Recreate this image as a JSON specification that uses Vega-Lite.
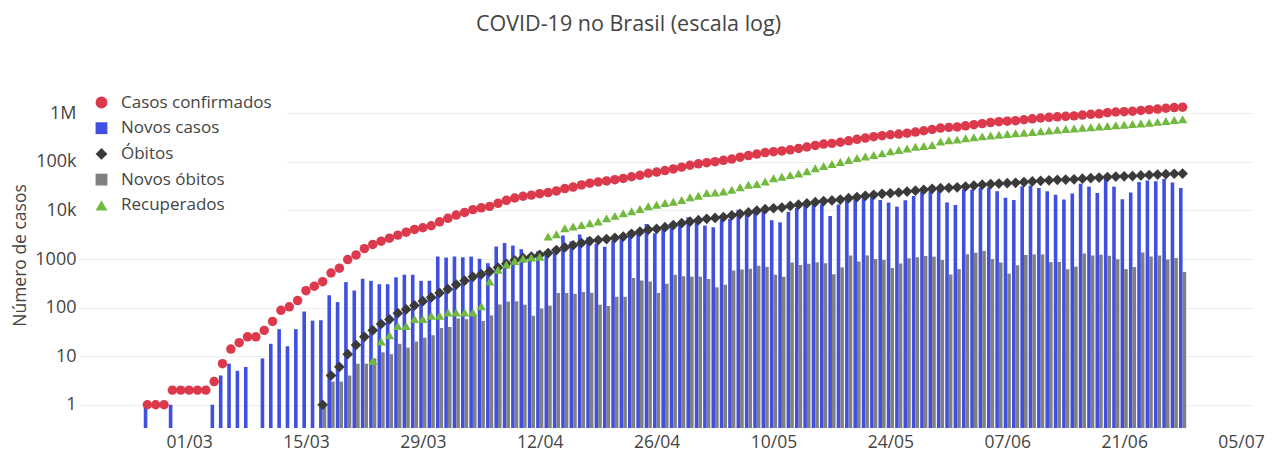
{
"$schema": "https://vega.github.io/schema/vega-lite/v6.json",
"width": 1175, "height": 340,
"autosize": {"type": "none"},
"padding": {"left": 78, "top": 88, "right": 27, "bottom": 24},
"background": "white",
"config": {"font": "Open Sans", "view": {"stroke": null},
  "legend": {"orient": "none", "legendX": 0, "legendY": -9, "padding": 15, "fillColor": "white", "labelFontSize": 17, "labelColor": "#444", "symbolSize": 140, "rowPadding": 7.7, "labelOffset": 11, "symbolStrokeWidth": 0, "symbolOpacity": 1}},
"title": {"text": "COVID-19 no Brasil (escala log)", "fontSize": 21.5, "fontWeight": "normal", "color": "#444", "anchor": "middle", "frame": "group", "dx": -37, "offset": 44},
"data": {"values": [
{"data":"2020-02-25","casos":1,"novos":1},
{"data":"2020-02-26","casos":1},
{"data":"2020-02-27","casos":1},
{"data":"2020-02-28","casos":2,"novos":1},
{"data":"2020-02-29","casos":2},
{"data":"2020-03-01","casos":2},
{"data":"2020-03-02","casos":2},
{"data":"2020-03-03","casos":2},
{"data":"2020-03-04","casos":3,"novos":1},
{"data":"2020-03-05","casos":7,"novos":4},
{"data":"2020-03-06","casos":14,"novos":7},
{"data":"2020-03-07","casos":19,"novos":5},
{"data":"2020-03-08","casos":25,"novos":6},
{"data":"2020-03-09","casos":25},
{"data":"2020-03-10","casos":34,"novos":9},
{"data":"2020-03-11","casos":52,"novos":18},
{"data":"2020-03-12","casos":88,"novos":36},
{"data":"2020-03-13","casos":104,"novos":16},
{"data":"2020-03-14","casos":140,"novos":36},
{"data":"2020-03-15","casos":223,"novos":83},
{"data":"2020-03-16","casos":277,"novos":54},
{"data":"2020-03-17","casos":342,"novos":55,"obitos":1,"novos_obitos":1},
{"data":"2020-03-18","casos":516,"novos":180,"obitos":4,"novos_obitos":3},
{"data":"2020-03-19","casos":650,"novos":130,"obitos":6,"novos_obitos":3},
{"data":"2020-03-20","casos":975,"novos":335,"obitos":11,"novos_obitos":4},
{"data":"2020-03-21","casos":1215,"novos":225,"obitos":17,"novos_obitos":7},
{"data":"2020-03-22","casos":1640,"novos":395,"obitos":25,"novos_obitos":7},
{"data":"2020-03-23","casos":2000,"novos":356,"obitos":34,"novos_obitos":9,"recuperados":8},
{"data":"2020-03-24","casos":2330,"novos":304,"obitos":46,"novos_obitos":12,"recuperados":20},
{"data":"2020-03-25","casos":2690,"novos":304,"obitos":57,"novos_obitos":11,"recuperados":27},
{"data":"2020-03-26","casos":3110,"novos":420,"obitos":77,"novos_obitos":18,"recuperados":42},
{"data":"2020-03-27","casos":3570,"novos":478,"obitos":92,"novos_obitos":15,"recuperados":42},
{"data":"2020-03-28","casos":4070,"novos":478,"obitos":111,"novos_obitos":20,"recuperados":58},
{"data":"2020-03-29","casos":4410,"novos":356,"obitos":136,"novos_obitos":24,"recuperados":58},
{"data":"2020-03-30","casos":4850,"novos":356,"obitos":162,"novos_obitos":27,"recuperados":68},
{"data":"2020-03-31","casos":5850,"novos":1125,"obitos":201,"novos_obitos":38,"recuperados":68},
{"data":"2020-04-01","casos":6890,"novos":1074,"obitos":240,"novos_obitos":40,"recuperados":79},
{"data":"2020-04-02","casos":8050,"novos":1125,"obitos":299,"novos_obitos":60,"recuperados":79},
{"data":"2020-04-03","casos":9140,"novos":1090,"obitos":359,"novos_obitos":58,"recuperados":79},
{"data":"2020-04-04","casos":10420,"novos":1125,"obitos":431,"novos_obitos":71,"recuperados":79},
{"data":"2020-04-05","casos":11350,"novos":1010,"obitos":486,"novos_obitos":53,"recuperados":107},
{"data":"2020-04-06","casos":12161,"novos":823,"obitos":553,"novos_obitos":69,"recuperados":344},
{"data":"2020-04-07","casos":14034,"novos":1820,"obitos":667,"novos_obitos":116,"recuperados":600},
{"data":"2020-04-08","casos":16170,"novos":2136,"obitos":800,"novos_obitos":133,"recuperados":775},
{"data":"2020-04-09","casos":18092,"novos":1900,"obitos":941,"novos_obitos":135,"recuperados":910},
{"data":"2020-04-10","casos":19638,"novos":1600,"obitos":1056,"novos_obitos":115,"recuperados":1030},
{"data":"2020-04-11","casos":20727,"novos":1250,"obitos":1124,"novos_obitos":68,"recuperados":1070},
{"data":"2020-04-12","casos":22169,"novos":1442,"obitos":1223,"novos_obitos":96,"recuperados":1110},
{"data":"2020-04-13","casos":23430,"novos":1250,"obitos":1328,"novos_obitos":110,"recuperados":2900},
{"data":"2020-04-14","casos":25262,"novos":1700,"obitos":1532,"novos_obitos":200,"recuperados":3250},
{"data":"2020-04-15","casos":28320,"novos":3058,"obitos":1736,"novos_obitos":200,"recuperados":4330},
{"data":"2020-04-16","casos":30425,"novos":2300,"obitos":1924,"novos_obitos":192,"recuperados":4670},
{"data":"2020-04-17","casos":33682,"novos":3200,"obitos":2141,"novos_obitos":210,"recuperados":5055},
{"data":"2020-04-18","casos":36599,"novos":2800,"obitos":2347,"novos_obitos":202,"recuperados":5470},
{"data":"2020-04-19","casos":38654,"novos":2055,"obitos":2462,"novos_obitos":115,"recuperados":5920},
{"data":"2020-04-20","casos":40581,"novos":1800,"obitos":2575,"novos_obitos":108,"recuperados":6900},
{"data":"2020-04-21","casos":43079,"novos":2400,"obitos":2741,"novos_obitos":167,"recuperados":7750},
{"data":"2020-04-22","casos":45757,"novos":2800,"obitos":2906,"novos_obitos":167,"recuperados":8800},
{"data":"2020-04-23","casos":49492,"novos":3800,"obitos":3313,"novos_obitos":406,"recuperados":9600},
{"data":"2020-04-24","casos":52995,"novos":3550,"obitos":3670,"novos_obitos":360,"recuperados":10700},
{"data":"2020-04-25","casos":58509,"novos":5300,"obitos":4016,"novos_obitos":345,"recuperados":12200},
{"data":"2020-04-26","casos":61888,"novos":3400,"obitos":4205,"novos_obitos":200,"recuperados":13100},
{"data":"2020-04-27","casos":66501,"novos":4200,"obitos":4543,"novos_obitos":310,"recuperados":14200},
{"data":"2020-04-28","casos":71886,"novos":5385,"obitos":5017,"novos_obitos":474,"recuperados":15200},
{"data":"2020-04-29","casos":78162,"novos":5800,"obitos":5466,"novos_obitos":442,"recuperados":16500},
{"data":"2020-04-30","casos":85380,"novos":7218,"obitos":5901,"novos_obitos":435,"recuperados":18800},
{"data":"2020-05-01","casos":91589,"novos":5800,"obitos":6329,"novos_obitos":435,"recuperados":20100},
{"data":"2020-05-02","casos":96559,"novos":4900,"obitos":6750,"novos_obitos":390,"recuperados":22800},
{"data":"2020-05-03","casos":101147,"novos":4500,"obitos":7025,"novos_obitos":262,"recuperados":23400},
{"data":"2020-05-04","casos":107780,"novos":6500,"obitos":7321,"novos_obitos":295,"recuperados":24500},
{"data":"2020-05-05","casos":114715,"novos":6700,"obitos":7921,"novos_obitos":580,"recuperados":26600},
{"data":"2020-05-06","casos":125218,"novos":10400,"obitos":8536,"novos_obitos":610,"recuperados":30100},
{"data":"2020-05-07","casos":135106,"novos":9700,"obitos":9146,"novos_obitos":630,"recuperados":33800},
{"data":"2020-05-08","casos":145328,"novos":9900,"obitos":9897,"novos_obitos":725,"recuperados":35200},
{"data":"2020-05-09","casos":155939,"novos":10000,"obitos":10627,"novos_obitos":690,"recuperados":39400},
{"data":"2020-05-10","casos":162699,"novos":6300,"obitos":11123,"novos_obitos":475,"recuperados":46000},
{"data":"2020-05-11","casos":168331,"novos":5700,"obitos":11519,"novos_obitos":430,"recuperados":49600},
{"data":"2020-05-12","casos":177589,"novos":9300,"obitos":12400,"novos_obitos":850,"recuperados":53500},
{"data":"2020-05-13","casos":188974,"novos":11200,"obitos":13149,"novos_obitos":755,"recuperados":57900},
{"data":"2020-05-14","casos":202918,"novos":13000,"obitos":13993,"novos_obitos":800,"recuperados":64000},
{"data":"2020-05-15","casos":218223,"novos":15000,"obitos":14817,"novos_obitos":855,"recuperados":74000},
{"data":"2020-05-16","casos":233142,"novos":13500,"obitos":15633,"novos_obitos":816,"recuperados":82800},
{"data":"2020-05-17","casos":241080,"novos":7700,"obitos":16118,"novos_obitos":485,"recuperados":90500},
{"data":"2020-05-18","casos":254220,"novos":13300,"obitos":16792,"novos_obitos":674,"recuperados":100000},
{"data":"2020-05-19","casos":271628,"novos":16300,"obitos":17971,"novos_obitos":1179,"recuperados":109000},
{"data":"2020-05-20","casos":291579,"novos":19600,"obitos":18859,"novos_obitos":888,"recuperados":120000},
{"data":"2020-05-21","casos":310087,"novos":17800,"obitos":20047,"novos_obitos":1188,"recuperados":130000},
{"data":"2020-05-22","casos":330890,"novos":19000,"obitos":21048,"novos_obitos":1001,"recuperados":139000},
{"data":"2020-05-23","casos":347398,"novos":16500,"obitos":22013,"novos_obitos":965,"recuperados":150000},
{"data":"2020-05-24","casos":363211,"novos":14600,"obitos":22666,"novos_obitos":653,"recuperados":165000},
{"data":"2020-05-25","casos":374898,"novos":12000,"obitos":23473,"novos_obitos":807,"recuperados":176000},
{"data":"2020-05-26","casos":391222,"novos":16200,"obitos":24512,"novos_obitos":1039,"recuperados":190000},
{"data":"2020-05-27","casos":411821,"novos":19900,"obitos":25598,"novos_obitos":1086,"recuperados":205000},
{"data":"2020-05-28","casos":438238,"novos":24000,"obitos":26754,"novos_obitos":1156,"recuperados":214000},
{"data":"2020-05-29","casos":465166,"novos":25000,"obitos":27878,"novos_obitos":1124,"recuperados":224000},
{"data":"2020-05-30","casos":498440,"novos":31000,"obitos":28834,"novos_obitos":956,"recuperados":262000},
{"data":"2020-05-31","casos":514849,"novos":14700,"obitos":29314,"novos_obitos":480,"recuperados":280000},
{"data":"2020-06-01","casos":526447,"novos":13000,"obitos":29937,"novos_obitos":623,"recuperados":288000},
{"data":"2020-06-02","casos":555383,"novos":27000,"obitos":31199,"novos_obitos":1262,"recuperados":306000},
{"data":"2020-06-03","casos":584016,"novos":27000,"obitos":32548,"novos_obitos":1349,"recuperados":322000},
{"data":"2020-06-04","casos":614941,"novos":29000,"obitos":34021,"novos_obitos":1473,"recuperados":336000},
{"data":"2020-06-05","casos":645771,"novos":29800,"obitos":35026,"novos_obitos":1005,"recuperados":350000},
{"data":"2020-06-06","casos":672846,"novos":25000,"obitos":35930,"novos_obitos":850,"recuperados":364000},
{"data":"2020-06-07","casos":691758,"novos":18400,"obitos":36455,"novos_obitos":500,"recuperados":376000},
{"data":"2020-06-08","casos":707412,"novos":16400,"obitos":37134,"novos_obitos":750,"recuperados":388000},
{"data":"2020-06-09","casos":739503,"novos":31500,"obitos":38406,"novos_obitos":1210,"recuperados":400000},
{"data":"2020-06-10","casos":772416,"novos":32700,"obitos":39680,"novos_obitos":1250,"recuperados":415000},
{"data":"2020-06-11","casos":802828,"novos":29000,"obitos":40919,"novos_obitos":1245,"recuperados":430000},
{"data":"2020-06-12","casos":828810,"novos":24900,"obitos":41828,"novos_obitos":865,"recuperados":445000},
{"data":"2020-06-13","casos":850514,"novos":21200,"obitos":42720,"novos_obitos":870,"recuperados":460000},
{"data":"2020-06-14","casos":867624,"novos":16800,"obitos":43332,"novos_obitos":620,"recuperados":474000},
{"data":"2020-06-15","casos":888271,"novos":22500,"obitos":43959,"novos_obitos":700,"recuperados":488000},
{"data":"2020-06-16","casos":923189,"novos":35600,"obitos":45241,"novos_obitos":1295,"recuperados":503000},
{"data":"2020-06-17","casos":955377,"novos":31000,"obitos":46510,"novos_obitos":1190,"recuperados":518000},
{"data":"2020-06-18","casos":978142,"novos":23000,"obitos":47748,"novos_obitos":1230,"recuperados":534000},
{"data":"2020-06-19","casos":1032913,"novos":52000,"obitos":48954,"novos_obitos":1165,"recuperados":552000},
{"data":"2020-06-20","casos":1067579,"novos":31000,"obitos":49976,"novos_obitos":990,"recuperados":570000},
{"data":"2020-06-21","casos":1085038,"novos":17000,"obitos":50617,"novos_obitos":620,"recuperados":586000},
{"data":"2020-06-22","casos":1106470,"novos":23500,"obitos":51271,"novos_obitos":690,"recuperados":602000},
{"data":"2020-06-23","casos":1145906,"novos":38500,"obitos":52645,"novos_obitos":1365,"recuperados":622000},
{"data":"2020-06-24","casos":1188631,"novos":41500,"obitos":53830,"novos_obitos":1130,"recuperados":644000},
{"data":"2020-06-25","casos":1228114,"novos":40000,"obitos":55054,"novos_obitos":1180,"recuperados":668000},
{"data":"2020-06-26","casos":1274974,"novos":44500,"obitos":55961,"novos_obitos":975,"recuperados":697000},
{"data":"2020-06-27","casos":1313667,"novos":37500,"obitos":57070,"novos_obitos":1050,"recuperados":727000},
{"data":"2020-06-28","casos":1344143,"novos":29000,"obitos":57622,"novos_obitos":540,"recuperados":757000}
]},
"transform": [
  {"fold": ["casos", "novos", "obitos", "novos_obitos", "recuperados"], "as": ["serie", "valor"]},
  {"filter": "isValid(datum.valor) && datum.valor > 0"}
],
"encoding": {
  "x": {"field": "data", "type": "temporal",
    "scale": {"type": "utc", "domain": [{"year": 2020, "month": 2, "date": 17, "hours": 7, "utc": true}, {"year": 2020, "month": 7, "date": 5, "hours": 20, "utc": true}]},
    "axis": {"values": [
      {"year": 2020, "month": 3, "date": 1, "utc": true},
      {"year": 2020, "month": 3, "date": 15, "utc": true},
      {"year": 2020, "month": 3, "date": 29, "utc": true},
      {"year": 2020, "month": 4, "date": 12, "utc": true},
      {"year": 2020, "month": 4, "date": 26, "utc": true},
      {"year": 2020, "month": 5, "date": 10, "utc": true},
      {"year": 2020, "month": 5, "date": 24, "utc": true},
      {"year": 2020, "month": 6, "date": 7, "utc": true},
      {"year": 2020, "month": 6, "date": 21, "utc": true},
      {"year": 2020, "month": 7, "date": 5, "utc": true}],
      "labelExpr": "utcFormat(datum.value, '%d/%m')", "labelFontSize": 17.5, "labelColor": "#444", "ticks": false, "domain": false, "grid": false, "labelPadding": 5, "title": null, "labelFlush": false, "labelOverlap": false}},
  "y": {"field": "valor", "type": "quantitative",
    "scale": {"type": "log", "domain": [0.332, 3330000], "nice": false},
    "axis": {"values": [1, 10, 100, 1000, 10000, 100000, 1000000],
      "labelExpr": "datum.value >= 1000000 ? '1M' : datum.value >= 10000 ? format(datum.value / 1000, 'd') + 'k' : format(datum.value, 'd')",
      "labelFontSize": 18, "labelColor": "#444", "ticks": false, "domain": false, "grid": true, "gridColor": "#eeeeee", "gridWidth": 1, "labelPadding": 2,
      "title": "Número de casos", "titleFontSize": 17.5, "titleFontWeight": "normal", "titleColor": "#444", "titleX": -57.5, "titleY": 167, "titleAngle": -90, "titleAlign": "center", "titleBaseline": "middle"}},
  "color": {"field": "serie", "type": "nominal",
    "scale": {"domain": ["casos", "novos", "obitos", "novos_obitos", "recuperados"], "range": ["#dc3a4c", "#3f4fe0", "#3a3a3a", "#808080", "#72b93f"]},
    "legend": {"title": null, "labelExpr": "datum.label === 'casos' ? 'Casos confirmados' : datum.label === 'novos' ? 'Novos casos' : datum.label === 'obitos' ? 'Óbitos' : datum.label === 'novos_obitos' ? 'Novos óbitos' : 'Recuperados'"}}
},
"layer": [
  {"transform": [{"filter": "datum.serie === 'novos'"}], "mark": {"type": "bar", "width": 3.6, "xOffset": -1.8}, "encoding": {"y2": {"datum": 0.332}}},
  {"transform": [{"filter": "datum.serie === 'novos_obitos'"}], "mark": {"type": "bar", "width": 3.6, "xOffset": 1.8}, "encoding": {"y2": {"datum": 0.332}}},
  {"transform": [{"filter": "datum.serie === 'casos'"}], "mark": {"type": "point", "filled": true, "opacity": 1, "size": 90, "strokeWidth": 0},
    "encoding": {"shape": {"field": "serie", "type": "nominal", "scale": {"domain": ["casos", "novos", "obitos", "novos_obitos", "recuperados"], "range": ["circle", "square", "diamond", "square", "triangle-up"]}, "legend": {"title": null, "labelExpr": "datum.label === 'casos' ? 'Casos confirmados' : datum.label === 'novos' ? 'Novos casos' : datum.label === 'obitos' ? 'Óbitos' : datum.label === 'novos_obitos' ? 'Novos óbitos' : 'Recuperados'"}}}},
  {"transform": [{"filter": "datum.serie === 'obitos'"}], "mark": {"type": "point", "filled": true, "opacity": 1, "size": 115, "strokeWidth": 0},
    "encoding": {"shape": {"field": "serie", "type": "nominal", "scale": {"domain": ["casos", "novos", "obitos", "novos_obitos", "recuperados"], "range": ["circle", "square", "diamond", "square", "triangle-up"]}, "legend": {"title": null, "labelExpr": "datum.label === 'casos' ? 'Casos confirmados' : datum.label === 'novos' ? 'Novos casos' : datum.label === 'obitos' ? 'Óbitos' : datum.label === 'novos_obitos' ? 'Novos óbitos' : 'Recuperados'"}}}},
  {"transform": [{"filter": "datum.serie === 'recuperados'"}], "mark": {"type": "point", "filled": true, "opacity": 1, "size": 85, "strokeWidth": 0},
    "encoding": {"shape": {"field": "serie", "type": "nominal", "scale": {"domain": ["casos", "novos", "obitos", "novos_obitos", "recuperados"], "range": ["circle", "square", "diamond", "square", "triangle-up"]}, "legend": {"title": null, "labelExpr": "datum.label === 'casos' ? 'Casos confirmados' : datum.label === 'novos' ? 'Novos casos' : datum.label === 'obitos' ? 'Óbitos' : datum.label === 'novos_obitos' ? 'Novos óbitos' : 'Recuperados'"}}}}
]
}
